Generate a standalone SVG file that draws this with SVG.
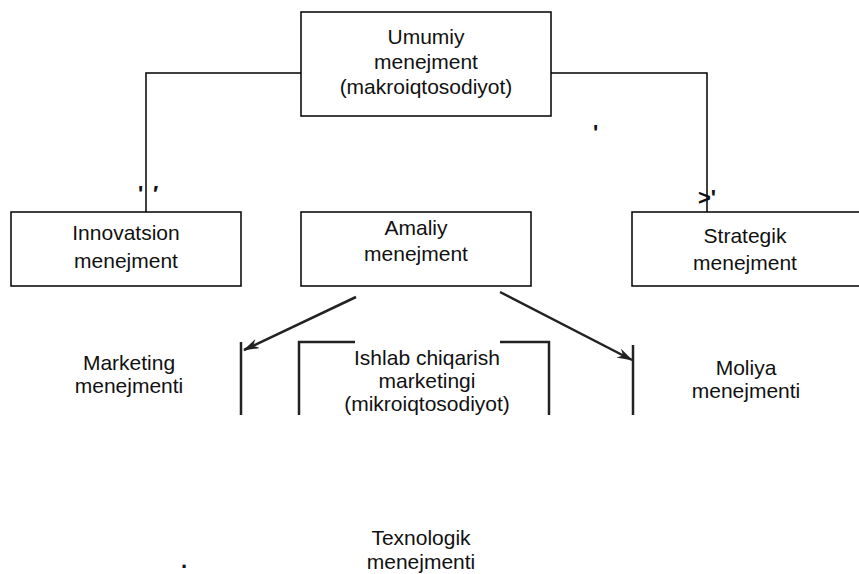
<svg xmlns="http://www.w3.org/2000/svg" width="859" height="574" viewBox="0 0 859 574">
<style>
.box{fill:#fff;stroke:#000;stroke-width:1.5}
.t{font-family:"Liberation Sans",Arial,sans-serif;font-size:21px;fill:#111;text-anchor:middle}
.ln{fill:none;stroke:#000;stroke-width:1.5}
.sc{fill:none;stroke:#222;stroke-width:2.5}
.mk{font-family:"Liberation Sans",Arial,sans-serif;font-weight:bold;font-size:22px;fill:#111}
</style>
<defs>
<marker id="ah" markerWidth="16" markerHeight="10" refX="15" refY="5" orient="auto" markerUnits="userSpaceOnUse">
<path d="M0,0 L16,5 L0,10 L5,5 Z" fill="#222"/>
</marker>
</defs>
<rect width="859" height="574" fill="#fff"/>
<g id="connectors">
<polyline class="ln" points="301,73 146,73 146,212"/>
<polyline class="ln" points="551,73 707,73 707,212"/>
<line class="sc" x1="356" y1="297" x2="244" y2="350" marker-end="url(#ah)" stroke-width="2"/>
<line class="sc" x1="500" y1="292" x2="632" y2="360" marker-end="url(#ah)" stroke-width="2"/>
</g>
<g id="n_umumiy">
<rect class="box" x="301" y="12" width="250" height="104"/>
<text class="t" x="426" y="44">Umumiy</text>
<text class="t" x="426" y="69">menejment</text>
<text class="t" x="426" y="94">(makroiqtosodiyot)</text>
</g>
<g id="n_innovatsion">
<rect class="box" x="11" y="212" width="230" height="74"/>
<text class="t" x="126" y="240">Innovatsion</text>
<text class="t" x="126" y="268">menejment</text>
</g>
<g id="n_amaliy">
<rect class="box" x="301" y="212" width="230" height="74"/>
<text class="t" x="416" y="235">Amaliy</text>
<text class="t" x="416" y="261">menejment</text>
</g>
<g id="n_strategik">
<rect class="box" x="632" y="212" width="232" height="74"/>
<text class="t" x="745" y="243">Strategik</text>
<text class="t" x="745" y="270">menejment</text>
</g>
<g id="n_marketing">
<text class="t" x="129" y="370">Marketing</text>
<text class="t" x="129" y="393">menejmenti</text>
</g>
<g id="n_ishlab">
<line class="sc" x1="241" y1="342" x2="241" y2="415"/>
<polyline class="sc" points="299,415 299,342 355,342"/>
<polyline class="sc" points="500,342 549,342 549,415"/>
<line class="sc" x1="633" y1="345" x2="633" y2="415"/>
<text class="t" x="427" y="365">Ishlab chiqarish</text>
<text class="t" x="427" y="388">marketingi</text>
<text class="t" x="427" y="411">(mikroiqtosodiyot)</text>
</g>
<g id="n_moliya">
<text class="t" x="746" y="375">Moliya</text>
<text class="t" x="746" y="398">menejmenti</text>
</g>
<g id="n_texnologik">
<text class="t" x="421" y="545">Texnologik</text>
<text class="t" x="421" y="569">menejmenti</text>
</g>
<g id="marks">
<text class="mk" x="138" y="201">'</text>
<text class="mk" x="153" y="201">′</text>
<text class="mk" x="593" y="140">'</text>
<text class="mk" x="698" y="205" font-size="25">&gt;'</text>
<text class="mk" x="181" y="568">.</text>
</g>
</svg>
